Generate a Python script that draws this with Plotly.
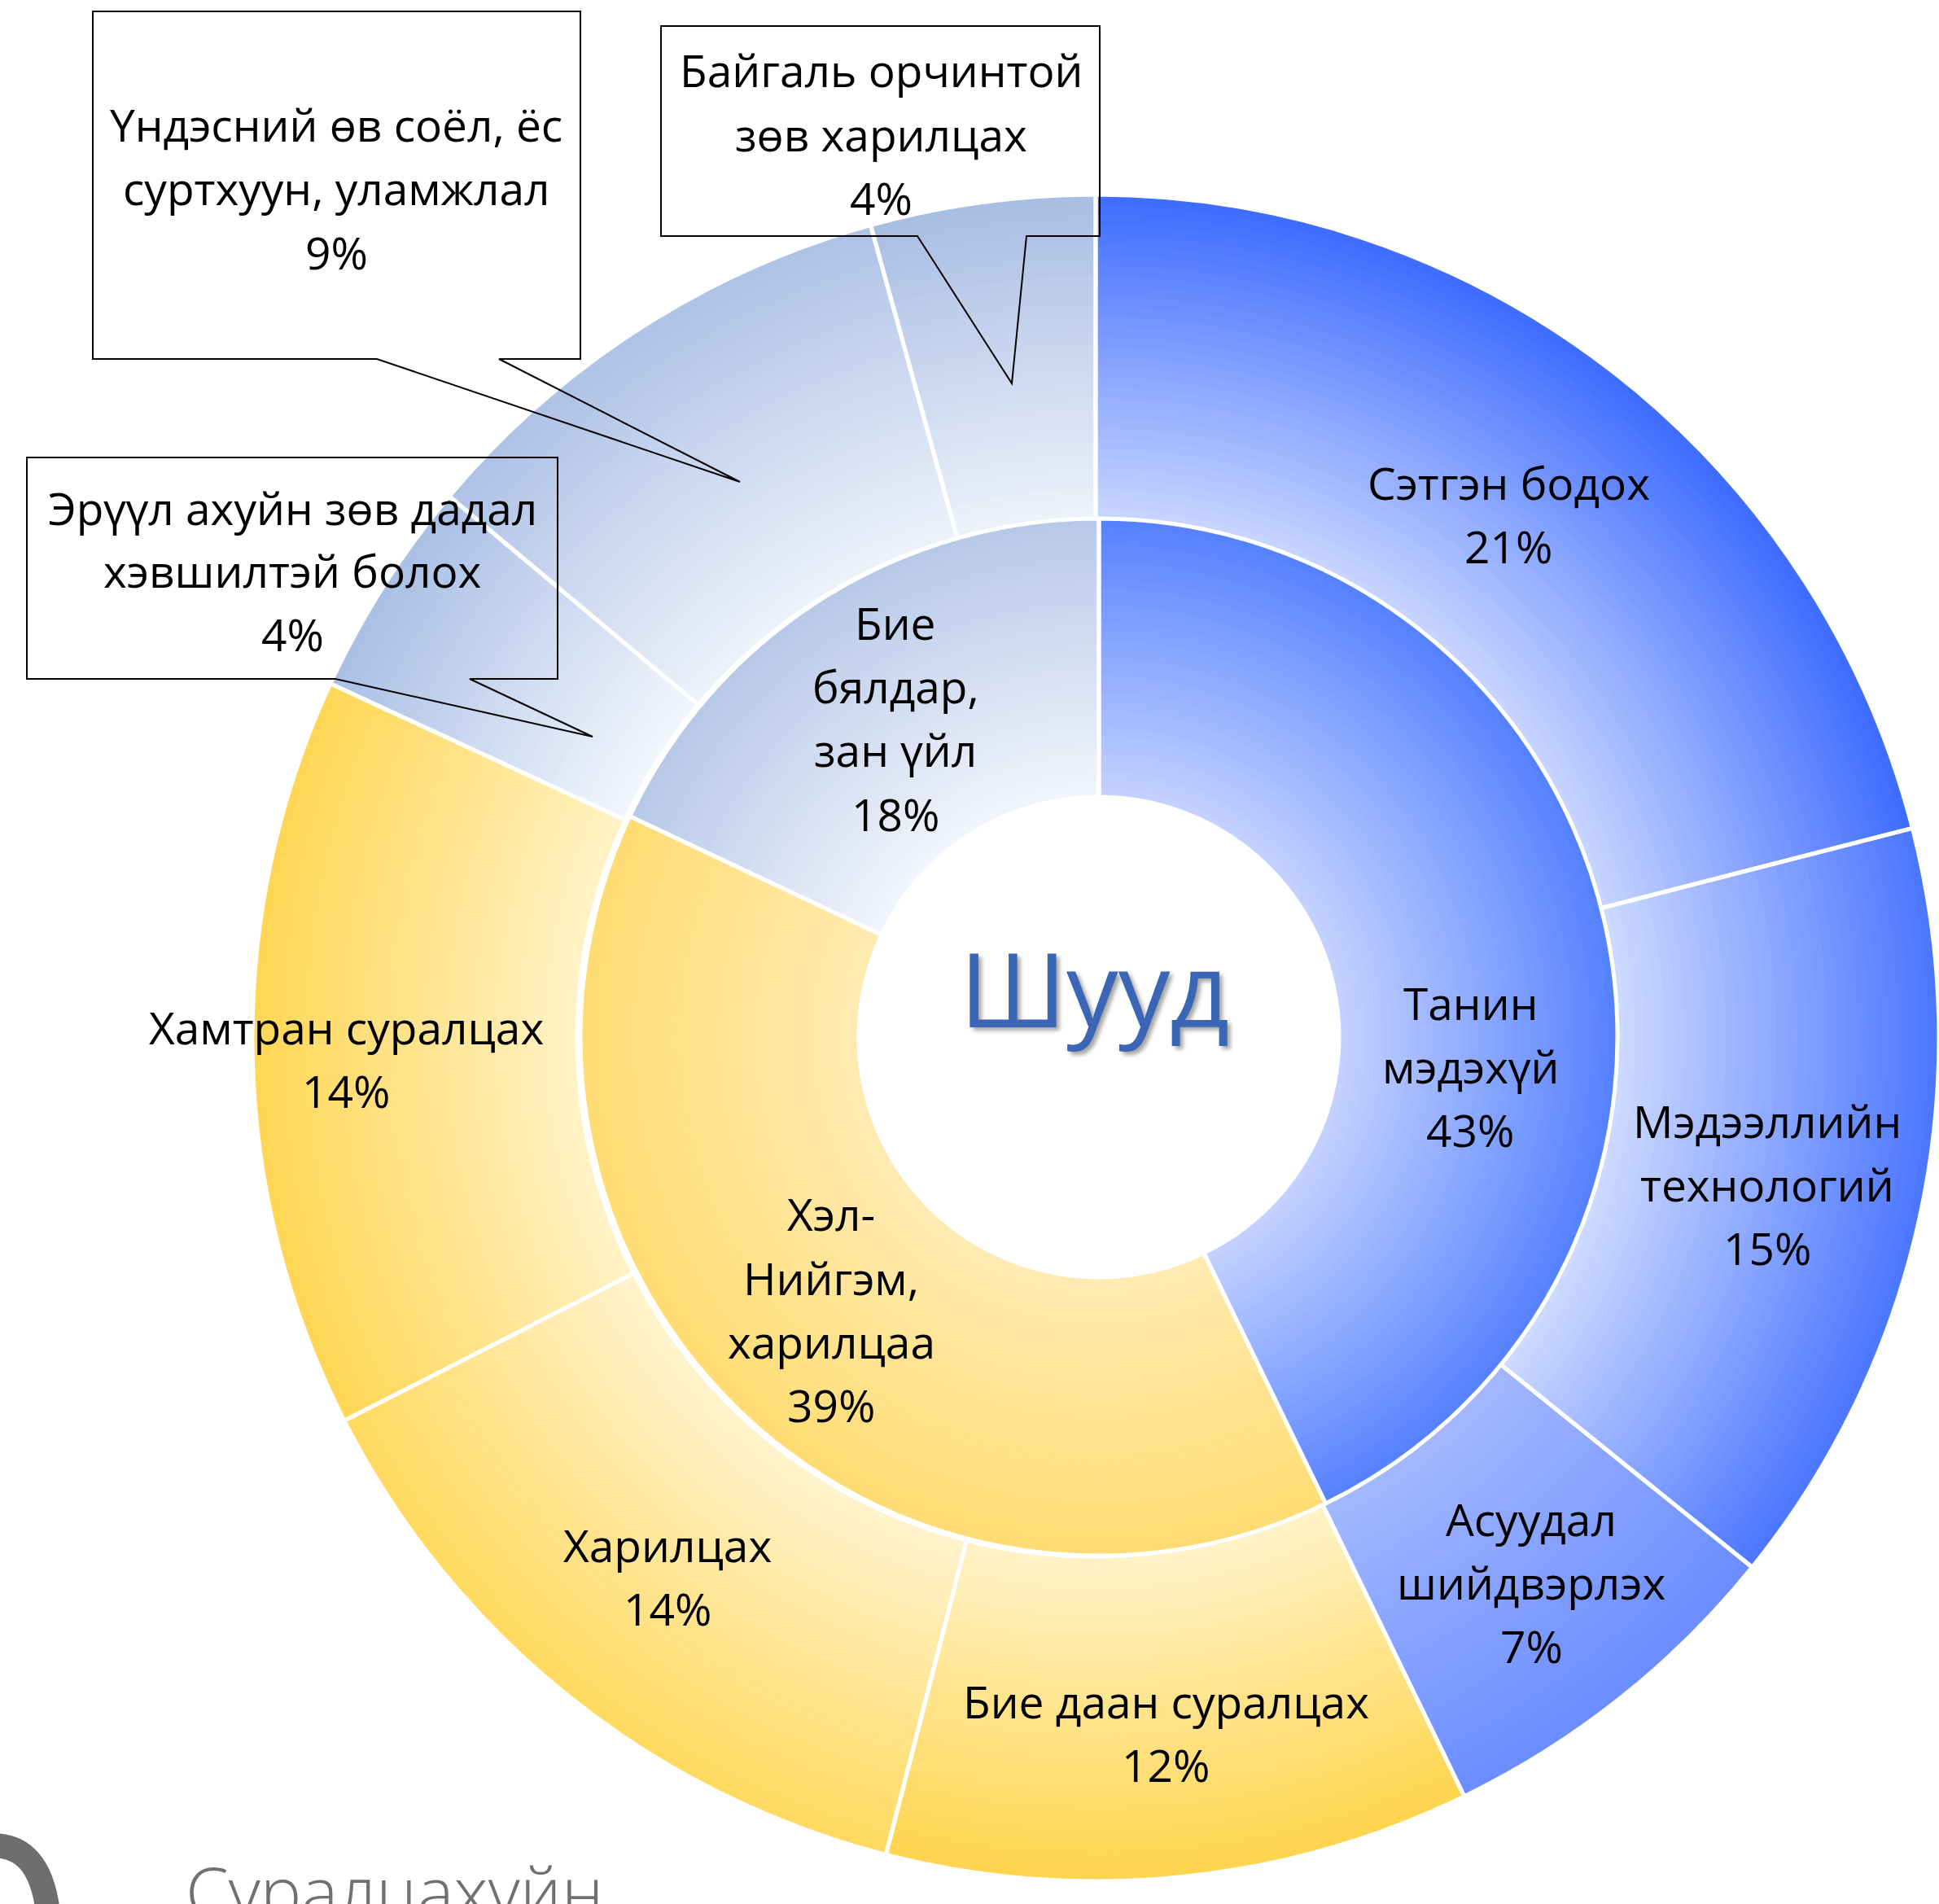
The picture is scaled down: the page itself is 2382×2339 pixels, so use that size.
import plotly.graph_objects as go

W, H = 2382, 2339

# ---------------- data ----------------
inner_labels = ["Танин мэдэхүй", "Хэл-Нийгэм, харилцаа", "Бие бялдар, зан үйл"]
inner_values = [42.8, 39.2, 18.0]
inner_pct = ["43%", "39%", "18%"]

outer_labels = ["Сэтгэн бодох", "Мэдээллийн технологий", "Асуудал шийдвэрлэх",
                "Бие даан суралцах", "Харилцах", "Хамтран суралцах",
                "Эрүүл ахуйн зөв дадал хэвшилтэй болох",
                "Үндэсний өв соёл, ёс суртхуун, уламжлал",
                "Байгаль орчинтой зөв харилцах"]
outer_values = [21.0, 14.8, 7.0, 11.2, 13.5, 14.4, 4.2, 9.6, 4.3]
outer_pct = ["21%", "15%", "7%", "12%", "14%", "14%", "4%", "9%", "4%"]

center_title = "Шууд"
footer_text = "Суралцахүйн"

# ---------------- styles ----------------
outer_col_edge = ["#3D6BFF", "#4A75FF", "#6A8CFF", "#FFD54D", "#FFD95E", "#FFD654",
                  "#A9BFE5", "#AEC2E6", "#A8BDE3"]
outer_col_mid = ["#C9D6FF", "#CFDBFF", "#A3B8FF", "#FFF2C8", "#FFF3CE", "#FFF2C6",
                 "#F3F6FC", "#EEF2FA", "#EEF2FA"]
inner_col_edge = ["#5581FF", "#FFDC72", "#B7C8E8"]
inner_col_mid = ["#C4D2FF", "#FFEBB2", "#F2F5FB"]

FONT = "Open Sans"
LABEL_SIZE = 55
LINE_GAP = 78


def hex2rgb(h):
    h = h.lstrip("#")
    return tuple(int(h[i:i + 2], 16) for i in (0, 2, 4))


def mix(c1, c2, t):
    a, b = hex2rgb(c1), hex2rgb(c2)
    return "rgb(%d,%d,%d)" % tuple(round(a[i] + (b[i] - a[i]) * t) for i in range(3))


def domain_for(cx, cy, r):
    return dict(x=[max(0.0, (cx - r) / W), min(1.0, (cx + r) / W)],
                y=[max(0.0, 1 - (cy + r) / H), min(1.0, 1 - (cy - r) / H)])


fig = go.Figure()

N = 32
rings = [
    # (labels, values, edge colors, inner colors, cx, cy, r_out, r_in)
    (outer_labels, outer_values, outer_col_edge, outer_col_mid, 1346, 1275, 1036, 637),
    (inner_labels, inner_values, inner_col_edge, inner_col_mid, 1350, 1274, 637, 295),
]

for labels, values, c_edge, c_mid, cx, cy, r_out, r_in in rings:
    for k in range(N):
        rk = r_in + (r_out - r_in) * (N - k) / N
        t = (k + 0.5) / N
        fig.add_trace(go.Pie(
            labels=labels, values=values, sort=False, direction="clockwise",
            rotation=0, hole=r_in / rk, domain=domain_for(cx, cy, rk),
            marker=dict(colors=[mix(a, b, t) for a, b in zip(c_edge, c_mid)],
                        line=dict(width=0)),
            textinfo="none", hoverinfo="skip", showlegend=False))
    # separators
    fig.add_trace(go.Pie(
        labels=labels, values=values, sort=False, direction="clockwise",
        rotation=0, hole=r_in / r_out, domain=domain_for(cx, cy, r_out),
        marker=dict(colors=["rgba(0,0,0,0)"] * len(values),
                    line=dict(color="white", width=5)),
        textinfo="none", hoverinfo="skip", showlegend=False))

annotations = []


def add_block(lines, xc, yc, size=LABEL_SIZE, color="black", gap=LINE_GAP):
    n = len(lines)
    for i, ln in enumerate(lines):
        y = yc + (i - (n - 1) / 2) * gap
        annotations.append(dict(
            text=ln, x=xc / W, y=1 - y / H, xref="paper", yref="paper",
            xanchor="center", yanchor="middle", showarrow=False,
            font=dict(family=FONT, size=size, color=color)))


# label blocks: (lines, x center px, y center px)
add_block(["Сэтгэн бодох", outer_pct[0]], 1853, 632)
add_block(["Мэдээллийн", "технологий", outer_pct[1]], 2171, 1454)
add_block(["Асуудал", "шийдвэрлэх", outer_pct[2]], 1881, 1943)
add_block(["Бие даан суралцах", outer_pct[3]], 1432, 2128)
add_block(["Харилцах", outer_pct[4]], 820, 1936)
add_block(["Хамтран суралцах", outer_pct[5]], 425, 1300)
add_block(["Эрүүл ахуйн зөв дадал", "хэвшилтэй болох", outer_pct[6]], 359, 701)
add_block(["Үндэсний өв соёл, ёс", "суртхуун, уламжлал", outer_pct[7]], 413, 231)
add_block(["Байгаль орчинтой", "зөв харилцах", outer_pct[8]], 1082, 164)
add_block(["Танин", "мэдэхүй", inner_pct[0]], 1806, 1309)
add_block(["Хэл-", "Нийгэм,", "харилцаа", inner_pct[1]], 1021, 1608)
add_block(["Бие", "бялдар,", "зан үйл", inner_pct[2]], 1100, 882)

# center title
title_font = dict(family=FONT, size=127, color="#3A66B5")
title_ann = dict(text=center_title, x=1344 / W, y=1 - 1212 / H, xref="paper", yref="paper",
                 xanchor="center", yanchor="middle", showarrow=False, font=title_font)
try:
    go.layout.Annotation(font=dict(shadow="4px 4px 5px rgba(0,0,0,0.35)"))
    title_ann["font"] = dict(title_font, shadow="4px 4px 5px rgba(0,0,0,0.35)")
except Exception:
    pass
annotations.append(title_ann)

# footer partial text (cut off by the bottom edge, as in the reference)
annotations.append(dict(text=footer_text, x=226 / W, y=1 - 2322 / H, xref="paper", yref="paper",
                        xanchor="left", yanchor="middle", showarrow=False,
                        font=dict(family=FONT, size=85, color="#707070", weight=300)))


def P(x, y):
    return "%.5f,%.5f" % (x / W, 1 - y / H)


def callout(x0, y0, x1, y1, b1, b2, tx, ty):
    return ("M " + P(x0, y0) + " L " + P(x1, y0) + " L " + P(x1, y1) + " L " + P(b2, y1) +
            " L " + P(tx, ty) + " L " + P(b1, y1) + " L " + P(x0, y1) + " Z")


shapes = [
    dict(type="path", xref="paper", yref="paper", layer="above",
         path=callout(114, 14, 713, 441, 463, 613, 909, 592),
         line=dict(color="black", width=2), fillcolor="rgba(0,0,0,0)"),
    dict(type="path", xref="paper", yref="paper", layer="above",
         path=callout(812, 32, 1351, 290, 1127, 1261, 1243, 471),
         line=dict(color="black", width=2), fillcolor="rgba(0,0,0,0)"),
    dict(type="path", xref="paper", yref="paper", layer="above",
         path=callout(33, 562, 685, 834, 412, 577, 728, 905),
         line=dict(color="black", width=2), fillcolor="rgba(0,0,0,0)"),
    # partial grey glyph at the bottom-left corner
    dict(type="path", xref="paper", yref="paper", layer="above",
         path="M " + P(-20, 2268) + " Q " + P(52, 2258) + " " + P(60, 2360),
         line=dict(color="#6E6E6E", width=30), fillcolor="rgba(0,0,0,0)"),
]

fig.update_layout(
    width=W, height=H, margin=dict(l=0, r=0, t=0, b=0),
    paper_bgcolor="white", plot_bgcolor="white",
    annotations=annotations, shapes=shapes, showlegend=False,
)

fig.write_html("out.html", config={"displayModeBar": False},
               post_script="document.body.style.margin='0';document.body.style.overflow='hidden';")
